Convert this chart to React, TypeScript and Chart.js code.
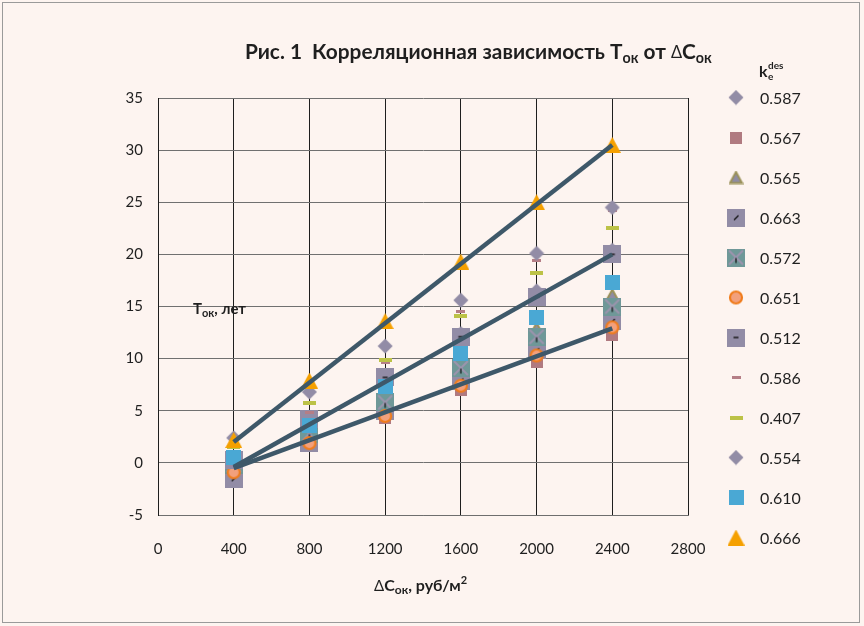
import { useEffect, useRef } from "react";
import { Chart, registerables } from "chart.js";

Chart.register(...registerables);

// Площадь ΔC_ок, руб/м²
const xValues = [400, 800, 1200, 1600, 2000, 2400];

// Значения k_e^des (подписи легенды)
const kLabels = ["0.587", "0.567", "0.565", "0.663", "0.572", "0.651", "0.512", "0.586", "0.407", "0.554", "0.610", "0.666"];

// Срок окупаемости T_ок, лет — по сериям
const t0587 = [0.2, 4.3, 8.3, 12.4, 16.5, 20.4];
const t0567 = [-1.1, 1.6, 4.3, 7.0, 9.7, 12.3];
const t0565 = [0.1, 3.3, 6.5, 9.7, 12.9, 16.1];
const t0663 = [-1.5, 1.9, 5.0, 7.9, 10.8, 13.6];
const t0572 = [-0.2, 2.8, 5.8, 9.1, 12.1, 15.0];
const t0651 = [-0.9, 1.9, 4.5, 7.4, 10.3, 13.0];
const t0512 = [0.3, 4.2, 8.2, 12.1, 15.9, 20.0];
const t0586 = [0.0, 4.8, 9.6, 14.5, 19.4, 24.2];
const t0407 = [1.5, 5.75, 9.9, 14.1, 18.2, 22.5];
const t0554 = [2.4, 6.8, 11.2, 15.6, 20.1, 24.5];
const t0610 = [0.5, 3.6, 7.3, 10.5, 13.9, 17.3];
const t0666 = [2.2, 7.9, 13.6, 19.3, 25.0, 30.5];

// Линии тренда (концевые точки)
const trendX = [400, 2400];
const trendUpper = [2.0, 30.5];
const trendMiddle = [-0.4, 20.0];
const trendLower = [-0.5, 12.9];

const seriesValues = [t0587, t0567, t0565, t0663, t0572, t0651, t0512, t0586, t0407, t0554, t0610, t0666];

const FONT = "Lato, 'Open Sans', 'Noto Sans', sans-serif";
const BG = "#fdf4f0";

function makeCanvas(w: number, h: number, draw: (c: CanvasRenderingContext2D) => void) {
  const cv = document.createElement("canvas");
  cv.width = w;
  cv.height = h;
  const c = cv.getContext("2d")!;
  draw(c);
  return cv;
}

function diamond(color: string) {
  return makeCanvas(16, 16, (c) => {
    c.fillStyle = color;
    c.beginPath();
    c.moveTo(8, 0.5);
    c.lineTo(15.5, 8);
    c.lineTo(8, 15.5);
    c.lineTo(0.5, 8);
    c.closePath();
    c.fill();
  });
}

function square(color: string, size: number) {
  return makeCanvas(size, size, (c) => {
    c.fillStyle = color;
    c.fillRect(0, 0, size, size);
  });
}

function triangle(fill: string, stroke: string | null, w: number, h: number) {
  return makeCanvas(w, h, (c) => {
    c.fillStyle = fill;
    c.beginPath();
    const p = stroke ? 1.5 : 0;
    c.moveTo(w / 2, p);
    c.lineTo(w - p, h - p);
    c.lineTo(p, h - p);
    c.closePath();
    c.fill();
    if (stroke) {
      c.strokeStyle = stroke;
      c.lineWidth = 2;
      c.stroke();
    }
  });
}

function markerSquareSlash() {
  return makeCanvas(18, 18, (c) => {
    c.fillStyle = "#928ca6";
    c.fillRect(0, 0, 18, 18);
    c.strokeStyle = "#111";
    c.lineWidth = 1.2;
    c.beginPath();
    c.moveTo(7, 11.5);
    c.lineTo(11.5, 7);
    c.stroke();
  });
}

function markerSquareCross() {
  return makeCanvas(18, 18, (c) => {
    c.fillStyle = "#6f9898";
    c.fillRect(0, 0, 18, 18);
    c.strokeStyle = "#9c94ae";
    c.lineWidth = 2;
    c.beginPath();
    c.moveTo(2, 2);
    c.lineTo(16, 16);
    c.moveTo(16, 2);
    c.lineTo(2, 16);
    c.stroke();
    c.strokeStyle = "#111";
    c.lineWidth = 1.2;
    c.beginPath();
    c.moveTo(9, 9.5);
    c.lineTo(9, 14.5);
    c.stroke();
  });
}

function markerCircle() {
  return makeCanvas(16, 16, (c) => {
    c.fillStyle = "#f2a07c";
    c.strokeStyle = "#f07c1c";
    c.lineWidth = 2.2;
    c.beginPath();
    c.arc(8, 8, 6, 0, Math.PI * 2);
    c.fill();
    c.stroke();
  });
}

function markerSquareDash() {
  return makeCanvas(18, 18, (c) => {
    c.fillStyle = "#928ca6";
    c.fillRect(0, 0, 18, 18);
    c.strokeStyle = "#111";
    c.lineWidth = 1.4;
    c.beginPath();
    c.moveTo(6.5, 9);
    c.lineTo(11.5, 9);
    c.stroke();
  });
}

function dash(color: string, w: number, h: number) {
  return makeCanvas(w, h, (c) => {
    c.fillStyle = color;
    c.fillRect(0, 0, w, h);
  });
}

type Run = { text: string; size: number; dy?: number; bold?: boolean };

function drawRuns(ctx: CanvasRenderingContext2D, runs: Run[], x: number, y: number, color = "#1f1f1f") {
  ctx.save();
  ctx.fillStyle = color;
  ctx.textBaseline = "alphabetic";
  ctx.textAlign = "left";
  let cx = x;
  for (const r of runs) {
    ctx.font = `${r.bold === false ? "" : "bold "}${r.size}px ${FONT}`;
    ctx.fillText(r.text, cx, y + (r.dy || 0));
    cx += ctx.measureText(r.text).width;
  }
  ctx.restore();
  return cx;
}

function runsWidth(ctx: CanvasRenderingContext2D, runs: Run[]) {
  let w = 0;
  for (const r of runs) {
    ctx.font = `${r.bold === false ? "" : "bold "}${r.size}px ${FONT}`;
    w += ctx.measureText(r.text).width;
  }
  return w;
}

export default function App() {
  const ref = useRef<HTMLCanvasElement>(null);

  useEffect(() => {
    document.body.style.margin = "0";
    const markers = [
      diamond("#928ca6"),
      square("#b07a80", 12),
      triangle("#8f8ca4", "#9a9158", 15, 14),
      markerSquareSlash(),
      markerSquareCross(),
      markerCircle(),
      markerSquareDash(),
      dash("#b57e86", 9, 3),
      dash("#bcc247", 13, 4),
      diamond("#928ca6"),
      square("#4aa8d4", 15),
      triangle("#f5a000", null, 17, 16),
    ];

    const trendStyle = {
      showLine: true,
      pointRadius: 0,
      borderColor: "#3e5869",
      borderWidth: 4.5,
      order: 0,
    };

    const datasets: any[] = [
      { ...trendStyle, label: "trend1", data: trendX.map((x, i) => ({ x, y: trendUpper[i] })) },
      { ...trendStyle, label: "trend2", data: trendX.map((x, i) => ({ x, y: trendMiddle[i] })) },
      { ...trendStyle, label: "trend3", data: trendX.map((x, i) => ({ x, y: trendLower[i] })) },
      ...seriesValues.map((vals, i) => ({
        label: kLabels[i],
        data: xValues.map((x, j) => ({ x, y: vals[j] })),
        pointStyle: markers[i],
        pointRadius: 8,
        showLine: false,
        order: 100 - i,
      })),
    ];

    const decor = {
      id: "decor",
      beforeDraw(chart: Chart) {
        const ctx = chart.ctx;
        ctx.save();
        ctx.fillStyle = BG;
        ctx.fillRect(0, 0, chart.width, chart.height);
        ctx.strokeStyle = "#9a9a9a";
        ctx.lineWidth = 1;
        ctx.strokeRect(2.5, 2.5, 857, 620);
        ctx.restore();
      },
      afterDraw(chart: Chart) {
        const ctx = chart.ctx;
        // Заголовок
        const titleRuns: Run[] = [
          { text: "Рис. 1  Корреляционная зависимость T", size: 19 },
          { text: "ок", size: 13, dy: 4 },
          { text: " от ", size: 19 },
          { text: "Δ", size: 15, bold: false, dy: -1 },
          { text: "C", size: 19 },
          { text: "ок", size: 13, dy: 4 },
        ];
        const tw = runsWidth(ctx, titleRuns);
        const k = 467 / tw;
        const scaled = titleRuns.map((r) => ({ ...r, size: r.size * k }));
        drawRuns(ctx, scaled, 245, 59);

        // Подпись оси Y
        drawRuns(ctx, [
          { text: "T", size: 15 },
          { text: "ок", size: 11, dy: 3 },
          { text: ", лет", size: 15 },
        ], 193, 314);

        // Подпись оси X
        drawRuns(ctx, [
          { text: "Δ", size: 15, bold: false },
          { text: "C", size: 16 },
          { text: "ок", size: 12, dy: 3 },
          { text: ", руб/м", size: 16 },
          { text: "2", size: 11, dy: -7 },
        ], 374, 591);

        // Легенда
        drawRuns(ctx, [{ text: "k", size: 16 }], 759, 77);
        drawRuns(ctx, [{ text: "des", size: 10 }], 768, 69);
        drawRuns(ctx, [{ text: "e", size: 10 }], 768, 80);
        ctx.save();
        kLabels.forEach((lab, i) => {
          const cy = 97.5 + i * 40;
          const m = markers[i];
          ctx.drawImage(m, 736 - m.width / 2, cy - m.height / 2);
          ctx.fillStyle = "#1f1f1f";
          ctx.font = `16px ${FONT}`;
          ctx.textBaseline = "middle";
          ctx.textAlign = "left";
          ctx.fillText(lab, 760, cy + 1);
        });
        ctx.restore();
      },
    };

    const chart = new Chart(ref.current!, {
      type: "scatter",
      data: { datasets },
      options: {
        animation: false,
        responsive: false,
        devicePixelRatio: 1,
        events: [],
        layout: { padding: { left: 0, top: 98, right: 176, bottom: 0 } },
        plugins: { legend: { display: false }, tooltip: { enabled: false }, title: { display: false } },
        scales: {
          x: {
            type: "linear",
            min: 0,
            max: 2800,
            ticks: {
              stepSize: 400,
              padding: 25,
              color: "#1f1f1f",
              font: { family: FONT, size: 15 },
              callback: (v: any) => String(v),
            },
            grid: { color: "#1e1e1e", lineWidth: 1, drawTicks: false },
            border: { color: "#6e6e6e", width: 1 },
            afterFit: (s: any) => { s.height = 111; },
          },
          y: {
            type: "linear",
            min: -5,
            max: 35,
            ticks: {
              stepSize: 5,
              padding: 15,
              color: "#1f1f1f",
              font: { family: FONT, size: 15 },
              callback: (v: any) => String(v),
            },
            grid: { color: "#707070", lineWidth: 1, drawTicks: false },
            border: { color: "#1e1e1e", width: 1 },
            afterFit: (s: any) => { s.width = 158; },
          },
        },
      },
      plugins: [decor],
    } as any);

    return () => chart.destroy();
  }, []);

  return (
    <div style={{ width: 864, height: 626 }}>
      <canvas ref={ref} width={864} height={626} style={{ display: "block" }} />
    </div>
  );
}
